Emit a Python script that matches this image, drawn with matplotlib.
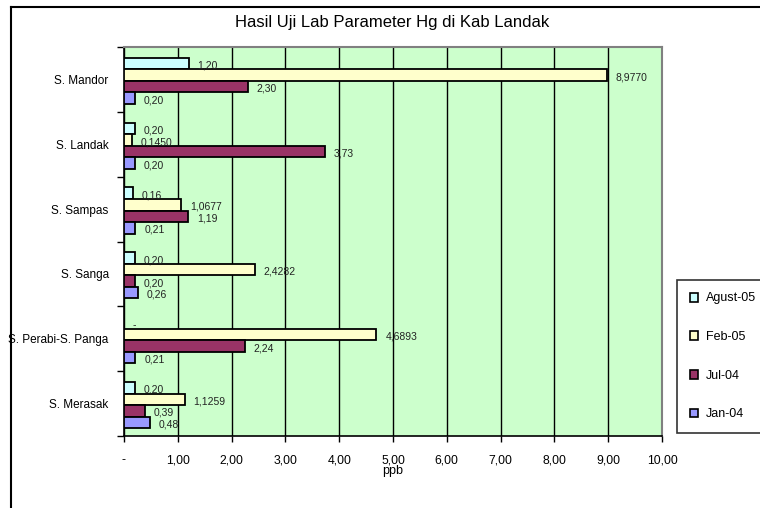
import matplotlib
matplotlib.use("Agg")
import matplotlib.pyplot as plt
import numpy as np
from matplotlib.patches import Patch
from matplotlib.lines import Line2D
from matplotlib.ticker import FixedLocator

plt.rcParams['font.family'] = ['Liberation Sans', 'DejaVu Sans']

categories = ["S. Mandor", "S. Landak", "S. Sampas", "S. Sanga", "S. Perabi-S. Panga", "S. Merasak"]
series_names = ["Agust-05", "Feb-05", "Jul-04", "Jan-04"]
agust05 = [1.20, 0.20, 0.16, 0.20, 0.0, 0.20]
feb05 = [8.9770, 0.1450, 1.0677, 2.4282, 4.6893, 1.1259]
jul04 = [2.30, 3.73, 1.19, 0.20, 2.24, 0.39]
jan04 = [0.20, 0.20, 0.21, 0.26, 0.21, 0.48]
series_values = [agust05, feb05, jul04, jan04]
series_decimals = [2, 4, 2, 2]
colors = ["#CCFFFF", "#FFFFCC", "#993366", "#9999FF"]
xticks = [0, 1, 2, 3, 4, 5, 6, 7, 8, 9, 10]
xtick_labels = ["-", "1,00", "2,00", "3,00", "4,00", "5,00", "6,00", "7,00", "8,00", "9,00", "10,00"]

W, H = 760, 508
fig = plt.figure(figsize=(W / 100, H / 100), dpi=100)
fig.patch.set_facecolor("white")

ax = fig.add_axes([124 / W, 1 - 436 / H, (662 - 124) / W, (436 - 47) / H])
ax.set_facecolor("#CCFFCC")

y = np.arange(len(categories))
h = 0.178
shift = 0.023
for j, (vals, col, dec) in enumerate(zip(series_values, colors, series_decimals)):
    pos = y + (j - 1.5) * h + shift
    ax.barh(pos, vals, height=h, color=col, edgecolor="black", linewidth=1.3, zorder=3)
    for p, v in zip(pos, vals):
        if v == 0:
            txt = "-"
        else:
            txt = f"{v:.{dec}f}".replace(".", ",")
        ax.annotate(txt, (v, p), xytext=(6.5, -1.5), textcoords="offset points",
                    va="center", ha="left", fontsize=7.5, color="#222222", zorder=4)

ax.set_xlim(0, 10)
ax.set_ylim(len(categories) - 0.5, -0.5)
ax.set_xticks(xticks)
ax.set_xticklabels(xtick_labels, fontsize=8.8)
ax.tick_params(axis="x", direction="out", length=4, width=1, pad=9, colors="black")
ax.set_yticks(y)
ax.set_yticklabels(categories, fontsize=8.5)
ax.tick_params(axis="y", which="major", length=0, pad=11)
ax.yaxis.set_minor_locator(FixedLocator(np.arange(-0.5, len(categories), 1.0)))
ax.tick_params(axis="y", which="minor", direction="out", length=5, width=1)
ax.grid(axis="x", color="black", linewidth=1, zorder=1)
ax.set_axisbelow(True)
ax.set_xlabel("ppb", fontsize=9, labelpad=-1)

for s in ["top", "right"]:
    ax.spines[s].set_color("#808080")
    ax.spines[s].set_linewidth(1.5)
for s in ["left", "bottom"]:
    ax.spines[s].set_color("black")
    ax.spines[s].set_linewidth(1.2)

fig.text(392 / W, 1 - 22 / H, "Hasil Uji Lab Parameter Hg di Kab Landak",
         ha="center", va="center", fontsize=12)

# outer chart border
fig.add_artist(Line2D([11 / W, 11 / W], [1 - 7 / H, 0], transform=fig.transFigure, color="black", linewidth=1.5))
fig.add_artist(Line2D([11 / W, 1], [1 - 7 / H, 1 - 7 / H], transform=fig.transFigure, color="black", linewidth=1.5))

handles = [Patch(facecolor=c, edgecolor="black", linewidth=1.2) for c in colors]
leg = fig.legend(handles, series_names, loc="upper left",
                 bbox_to_anchor=(677 / W, 1 - 280 / H - 0.01, 100 / W, 0.01), mode="expand",
                 fontsize=9, frameon=True, fancybox=False, edgecolor="black",
                 handlelength=0.7, handleheight=0.7, handletextpad=0.6,
                 labelspacing=2.13, borderpad=1.0, borderaxespad=0)
leg.get_frame().set_linewidth(1.2)

fig.savefig("out.png", dpi=100)
